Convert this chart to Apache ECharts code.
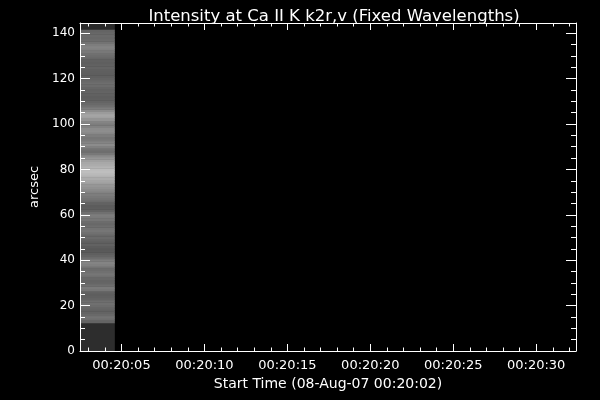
<!DOCTYPE html>
<html>
<head>
<meta charset="utf-8">
<script src="https://cdn.jsdelivr.net/npm/echarts@6/dist/echarts.min.js"></script>
<style>html,body{margin:0;padding:0;background:#000;}#c{width:600px;height:400px;}</style>
</head>
<body>
<div id="c"></div>
<script>
// Exposure time span (seconds after 00:20:00)
var timeStart = 2.5;
var timeEnd = 4.6;
// Row centres (arcsec) of the image column
var arcsecRows = [
  13,14,15,16,17,18,19,20,21,22,
  23,24,25,26,27,28,29,30,31,32,
  33,34,35,36,37,38,39,40,41,42,
  43,44,45,46,47,48,49,50,51,52,
  53,54,55,56,57,58,59,60,61,62,
  63,64,65,66,67,68,69,70,71,72,
  73,74,75,76,77,78,79,80,81,82,
  83,84,85,86,87,88,89,90,91,92,
  93,94,95,96,97,98,99,100,101,102,
  103,104,105,106,107,108,109,110,111,112,
  113,114,115,116,117,118,119,120,121,122,
  123,124,125,126,127,128,129,130,131,132,
  133,134,135,136,137,138,139,140,141
];
// Intensity (grey level) per row
var intensity = [
  100,110,115,105,100,98,102,108,112,110,
  100,96,94,98,118,122,110,102,100,104,
  112,118,112,108,115,128,132,125,110,100,
  95,90,88,92,98,95,100,106,104,112,
  118,115,110,104,108,118,122,125,112,100,
  94,92,98,108,115,120,125,130,138,145,
  150,158,165,172,178,185,190,188,180,172,
  168,160,150,138,120,110,115,128,140,132,
  122,118,125,135,142,140,130,125,132,148,
  160,165,155,140,125,112,105,100,96,94,
  97,100,98,102,108,110,105,100,96,94,
  95,96,100,98,95,97,102,108,112,120,
  128,132,125,115,108,104,106,104,100
];
// Empty (no-data) blocks: [bottom arcsec, top arcsec, grey level]
var emptyBlocks = [[0, 12.5, 45], [141.5, 144.5, 42]];

var xMajor = [5, 10, 15, 20, 25, 30];
var xMinor = [3,4,6,7,8,9,11,12,13,14,16,17,18,19,21,22,23,24,26,27,28,29,31,32];
var yMajor = [0, 20, 40, 60, 80, 100, 120, 140];
var yMinor = [5,10,15,25,30,35,45,50,55,65,70,75,85,90,95,105,110,115,125,130,135];

var xMin = 2.5, xMax = 32.4, yMin = 0, yMax = 144.5;

var data = [];
emptyBlocks.forEach(function (b) { data.push([timeStart, timeEnd, b[0], b[1], b[2]]); });
for (var i = 0; i < arcsecRows.length; i++) {
  data.push([timeStart, timeEnd, arcsecRows[i] - 0.5, arcsecRows[i] + 0.5, intensity[i]]);
}

function pad(n) { return (n < 10 ? '0' : '') + n; }
var white = '#ffffff';
var font = 'DejaVu Sans';

function xAx(pos, ticks, len, labels, line) {
  return {
    type: 'value', gridIndex: 0, position: pos, min: xMin, max: xMax, z: 10,
    axisLine: { show: line, onZero: false, lineStyle: { color: white, width: 1 } },
    axisTick: { show: true, inside: true, length: len, customValues: ticks, lineStyle: { color: white, width: 1 } },
    axisLabel: labels ? { show: true, customValues: ticks, color: white, fontFamily: font, fontSize: 13, margin: 8,
      formatter: function (v) { return '00:20:' + pad(Math.round(v)); } } : { show: false },
    splitLine: { show: false }
  };
}
function yAx(pos, ticks, len, labels, line) {
  return {
    type: 'value', gridIndex: 0, position: pos, min: yMin, max: yMax, z: 10,
    axisLine: { show: line, onZero: false, lineStyle: { color: white, width: 1 } },
    axisTick: { show: true, inside: true, length: len, customValues: ticks, lineStyle: { color: white, width: 1 } },
    axisLabel: labels ? { show: true, customValues: ticks, color: white, fontFamily: font, fontSize: 12, margin: 5 } : { show: false },
    splitLine: { show: false }
  };
}

var xAxes = [xAx('bottom', xMajor, 7, true, true), xAx('bottom', xMinor, 3.5, false, false),
             xAx('top', xMajor, 7, false, true), xAx('top', xMinor, 3.5, false, false)];
xAxes[0].name = 'Start Time (08-Aug-07 00:20:02)';
xAxes[0].nameLocation = 'middle';
xAxes[0].nameGap = 25;
xAxes[0].nameTextStyle = { color: white, fontFamily: font, fontSize: 14 };

var yAxes = [yAx('left', yMajor, 10, true, true), yAx('left', yMinor, 5, false, false),
             yAx('right', yMajor, 10, false, true), yAx('right', yMinor, 5, false, false)];
yAxes[0].name = 'arcsec';
yAxes[0].nameLocation = 'middle';
yAxes[0].nameGap = 37;
yAxes[0].nameTextStyle = { color: white, fontFamily: font, fontSize: 13 };

var chart = echarts.init(document.getElementById('c'), null, { renderer: 'canvas' });
chart.setOption({
  backgroundColor: '#000000',
  animation: false,
  title: {
    text: 'Intensity at Ca II K k2r,v (Fixed Wavelengths)',
    left: 329, top: 3, textAlign: 'center',
    textStyle: { color: white, fontFamily: font, fontSize: 16.5, fontWeight: 'normal' }
  },
  grid: { left: 80, top: 23, width: 496, height: 328, containLabel: false },
  xAxis: xAxes,
  yAxis: yAxes,
  visualMap: {
    show: false, type: 'continuous', dimension: 4, min: 0, max: 255, seriesIndex: 0,
    inRange: { color: ['#000000', '#ffffff'] }
  },
  series: [{
    type: 'custom',
    xAxisIndex: 0, yAxisIndex: 0,
    encode: { x: [0, 1], y: [2, 3] },
    clip: true,
    z: 1,
    renderItem: function (params, api) {
      var p0 = api.coord([api.value(0), api.value(3)]);
      var p1 = api.coord([api.value(1), api.value(2)]);
      return {
        type: 'rect',
        shape: { x: p0[0], y: p0[1], width: p1[0] - p0[0], height: p1[1] - p0[1] + 0.5 },
        style: { fill: api.visual('color') }
      };
    },
    data: data
  }]
});
</script>
</body>
</html>
